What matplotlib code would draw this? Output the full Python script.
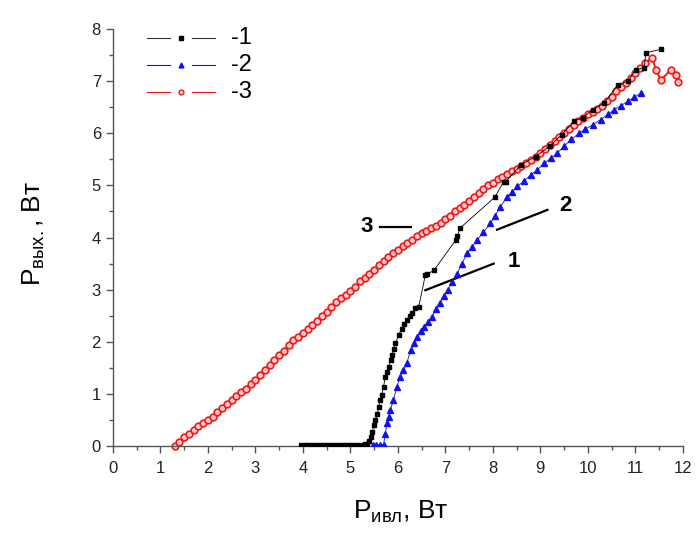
import matplotlib
matplotlib.use('Agg')
import matplotlib.pyplot as plt
from matplotlib.ticker import MultipleLocator

plt.rcParams['font.family'] = ['Liberation Sans', 'DejaVu Sans']
plt.rcParams['mathtext.fontset'] = 'custom'
plt.rcParams['mathtext.rm'] = 'Liberation Sans'
plt.rcParams['mathtext.it'] = 'Liberation Sans'

# curve 1 (black squares)
x1 = [3.96, 4.04, 4.12, 4.20, 4.28, 4.36, 4.44, 4.52, 4.60, 4.68, 4.76, 4.84, 4.92, 5.00,
      5.08, 5.16, 5.24, 5.32, 5.36, 5.39, 5.43, 5.46, 5.50, 5.53, 5.57, 5.60, 5.63, 5.66,
      5.70, 5.74, 5.77, 5.81, 5.85, 5.88, 5.92, 5.95, 6.02, 6.08, 6.14, 6.19, 6.25, 6.30,
      6.37, 6.44, 6.58, 6.62, 6.76, 7.22, 7.25, 7.31, 8.04, 8.23, 8.27, 8.60, 8.90, 9.20,
      9.45, 9.71, 9.90, 10.10, 10.35, 10.63, 10.85, 11.01, 11.19, 11.22, 11.54]
y1 = [0.02, 0.02, 0.02, 0.02, 0.02, 0.02, 0.02, 0.02, 0.02, 0.02, 0.02, 0.02, 0.02, 0.02,
      0.02, 0.03, 0.03, 0.04, 0.05, 0.10, 0.18, 0.27, 0.40, 0.50, 0.62, 0.75, 0.88, 0.98,
      1.14, 1.33, 1.42, 1.52, 1.65, 1.75, 1.86, 1.97, 2.13, 2.25, 2.35, 2.42, 2.50, 2.55,
      2.64, 2.67, 3.28, 3.30, 3.37, 3.95, 4.02, 4.18, 4.77, 5.07, 5.07, 5.40, 5.55, 5.75,
      5.97, 6.23, 6.30, 6.45, 6.58, 6.93, 7.00, 7.22, 7.25, 7.54, 7.61]

# curve 2 (blue triangles)
x2 = [5.48, 5.55, 5.62, 5.70, 5.74, 5.77, 5.81, 5.84, 5.91, 5.98, 6.05, 6.12, 6.19, 6.27,
      6.34, 6.41, 6.48, 6.55, 6.63, 6.72, 6.80, 6.88, 6.97, 7.05, 7.15, 7.25, 7.35, 7.46,
      7.56, 7.67, 7.80, 7.95, 8.05, 8.16, 8.30, 8.41, 8.52, 8.65, 8.80, 8.94, 9.08, 9.22,
      9.36, 9.50, 9.65, 9.82, 9.95, 10.10, 10.27, 10.42, 10.56, 10.70, 10.84, 10.98, 11.12]
y2 = [0.02, 0.02, 0.03, 0.03, 0.24, 0.44, 0.56, 0.69, 0.88, 1.14, 1.33, 1.46, 1.59, 1.84,
      1.97, 2.10, 2.20, 2.29, 2.38, 2.48, 2.63, 2.75, 2.87, 3.00, 3.15, 3.31, 3.50, 3.70,
      3.82, 3.95, 4.10, 4.27, 4.42, 4.59, 4.78, 4.88, 4.98, 5.08, 5.20, 5.30, 5.42, 5.52,
      5.62, 5.75, 5.88, 6.00, 6.08, 6.16, 6.26, 6.36, 6.45, 6.53, 6.61, 6.69, 6.77]

# curve 3 (red open circles)
x3 = [1.31, 1.40, 1.50, 1.60, 1.70, 1.80, 1.90, 2.00, 2.10, 2.20, 2.30, 2.40, 2.50, 2.60,
      2.70, 2.80, 2.90, 3.00, 3.10, 3.20, 3.30, 3.40, 3.50, 3.60, 3.70, 3.80, 3.90, 4.00,
      4.10, 4.20, 4.30, 4.40, 4.50, 4.60, 4.70, 4.80, 4.90, 5.00, 5.10, 5.20, 5.30, 5.40,
      5.50, 5.60, 5.70, 5.80, 5.90, 6.00, 6.10, 6.20, 6.30, 6.40, 6.50, 6.60, 6.70, 6.80,
      6.90, 7.00, 7.10, 7.20, 7.30, 7.40, 7.50, 7.60, 7.70, 7.80, 7.90, 8.00, 8.10, 8.20,
      8.30, 8.40, 8.50, 8.60, 8.70, 8.80, 8.90, 9.00, 9.10, 9.20, 9.30, 9.40, 9.50, 9.60,
      9.70, 9.80, 9.90, 10.00, 10.10, 10.20, 10.30, 10.40, 10.50, 10.60, 10.70, 10.80,
      10.90, 11.00, 11.10, 11.20, 11.36, 11.43, 11.54, 11.75, 11.86, 11.89]
y3 = [0.00, 0.08, 0.17, 0.24, 0.31, 0.38, 0.45, 0.50, 0.56, 0.65, 0.73, 0.81, 0.88, 0.96,
      1.03, 1.10, 1.19, 1.27, 1.36, 1.47, 1.55, 1.65, 1.75, 1.83, 1.94, 2.04, 2.10, 2.17,
      2.25, 2.33, 2.40, 2.50, 2.57, 2.66, 2.76, 2.85, 2.90, 2.97, 3.06, 3.16, 3.22, 3.30,
      3.38, 3.47, 3.55, 3.63, 3.70, 3.76, 3.83, 3.89, 3.95, 4.02, 4.08, 4.13, 4.18, 4.22,
      4.27, 4.35, 4.42, 4.50, 4.56, 4.62, 4.70, 4.78, 4.85, 4.93, 5.00, 5.05, 5.12, 5.17,
      5.22, 5.28, 5.32, 5.38, 5.43, 5.49, 5.55, 5.62, 5.70, 5.77, 5.85, 5.93, 6.01, 6.08,
      6.16, 6.24, 6.30, 6.36, 6.40, 6.46, 6.53, 6.62, 6.70, 6.80, 6.88, 6.97,
      7.05, 7.15, 7.25, 7.35, 7.44, 7.22, 7.02, 7.22, 7.12, 6.99]

labels = ['-1', '-2', '-3']
colors = ['black', '#1010f0', '#f01818']
markers = ['s', '^', 'o']
faces = ['black', '#1010f0', '#ffc8c8']

fig = plt.figure(figsize=(6.96, 5.35), dpi=100)
ax = fig.add_axes([0.162, 0.166, 0.819, 0.780])

ax.plot(x1, y1, color=colors[0], lw=0.6, marker=markers[0], ms=3, mfc=faces[0],
        mec=colors[0], zorder=4)
ax.plot(x2, y2, color=colors[1], lw=0.6, marker=markers[1], ms=4, mfc=faces[1],
        mec=colors[1], zorder=3)
ax.plot(x3, y3, color=colors[2], lw=1.4, marker=markers[2], ms=4.8, mfc=faces[2],
        mec=colors[2], mew=1.2, zorder=2, clip_on=False)

ax.set_xlim(0, 12)
ax.set_ylim(0, 8)
ax.xaxis.set_major_locator(MultipleLocator(1))
ax.xaxis.set_minor_locator(MultipleLocator(0.5))
ax.yaxis.set_major_locator(MultipleLocator(1))
ax.yaxis.set_minor_locator(MultipleLocator(0.5))

for s in ['top', 'right']:
    ax.spines[s].set_visible(False)
for s in ['left', 'bottom']:
    ax.spines[s].set_color('#555555')
    ax.spines[s].set_linewidth(1.0)
ax.tick_params(which='major', direction='out', length=5, width=1, color='#555555',
               labelsize=12, labelcolor='#222222')
ax.tick_params(axis='x', which='major', pad=6)
ax.tick_params(which='minor', direction='out', length=3, width=1, color='#555555')

ax.set_xlabel('P$_{\\mathrm{ивл}}$, Вт', fontsize=19)
ax.xaxis.set_label_coords(0.505, -0.125)
ax.xaxis.label.set_va('top')
ax.set_ylabel('P$_{\\mathrm{вых.}}$, Вт', fontsize=19)
ax.yaxis.set_label_coords(-0.115, 0.51)
ax.yaxis.label.set_va('bottom')

# legend drawn by hand: line - gap - marker - gap - line, then label
rows = [0.978, 0.914, 0.849]
for i in range(3):
    yy = rows[i]
    lc = '#333333' if i == 0 else colors[i]
    ax.plot([0.060, 0.100], [yy, yy], transform=ax.transAxes, color=lc, lw=0.8,
            clip_on=False)
    ax.plot([0.139, 0.179], [yy, yy], transform=ax.transAxes, color=lc, lw=0.8,
            clip_on=False)
    ax.plot([0.119], [yy], transform=ax.transAxes, ls='none', marker=markers[i], ms=3.5,
            mfc=faces[i], mec=colors[i], clip_on=False)
    ax.text(0.208, yy, labels[i], transform=ax.transAxes, fontsize=17, ha='left',
            va='center')

# curve labels
ax.text(5.35, 4.21, '3', fontsize=16, fontweight='bold', ha='center', va='center')
ax.plot([5.63, 6.27], [4.21, 4.21], color='black', lw=1.6)
ax.text(9.54, 4.62, '2', fontsize=16, fontweight='bold', ha='center', va='center')
ax.plot([8.09, 9.15], [4.15, 4.53], color='black', lw=1.6)
ax.text(8.45, 3.54, '1', fontsize=16, fontweight='bold', ha='center', va='center')
ax.plot([6.58, 8.02], [2.99, 3.50], color='black', lw=1.6)

fig.savefig('out.png', dpi=100)
